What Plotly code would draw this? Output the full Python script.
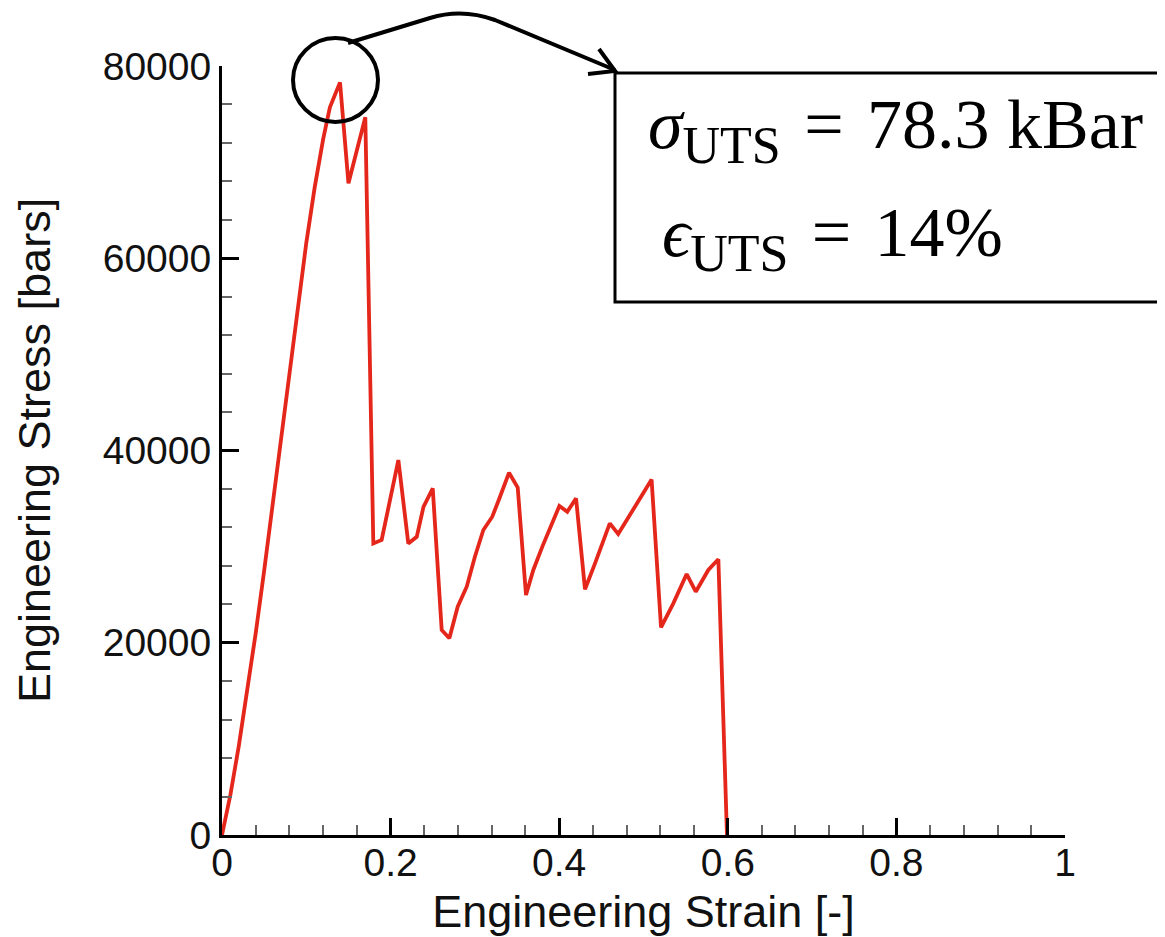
import plotly.graph_objects as go

# ---- data ----
strain = [0.0, 0.01, 0.02, 0.03, 0.04, 0.05, 0.06, 0.07, 0.08, 0.09,
          0.10, 0.11, 0.12, 0.128, 0.134, 0.140, 0.150, 0.170,
          0.1795, 0.1894, 0.2092, 0.221, 0.231, 0.239, 0.250,
          0.2606, 0.2697, 0.2796, 0.2903, 0.300, 0.310, 0.3206, 0.3298, 0.3405, 0.3508,
          0.3606, 0.3693, 0.380, 0.4002, 0.4096, 0.420, 0.4306, 0.4425, 0.460, 0.470,
          0.480, 0.5096, 0.5208, 0.5354, 0.5512, 0.562, 0.5769, 0.5888, 0.599]
stress = [0, 4200, 9300, 14900, 21000, 27500, 34300, 41200, 48100, 55000,
          61600, 67400, 72400, 75700, 76900, 78300, 67800, 74660,
          30330, 30690, 39010, 30330, 31020, 34140, 36050,
          21330, 20460, 23750, 25830, 28950, 31730, 33110, 35190, 37690, 36150,
          24970, 27570, 30000, 34230, 33630, 35020, 25560, 28260, 32420, 31310,
          32770, 36980, 21610, 24100, 27150, 25310, 27570, 28680, 0]

x_ticks = [0, 0.2, 0.4, 0.6, 0.8, 1]
y_ticks = [0, 20000, 40000, 60000, 80000]

# page is drawn with an 8 px body margin, so the figure is offset by 8 px
OFF = 8
W, H = 1165 - OFF, 937 - OFF
L, T = 222 - OFF, 66 - OFF
PW, PH = 843, 769
R, B = W - L - PW, H - T - PH


def px(x):
    return (x - OFF - L) / PW


def py(y):
    return (T + PH - (y - OFF)) / PH


fig = go.Figure()
fig.add_trace(go.Scatter(x=strain, y=stress, mode="lines",
                         line=dict(color="#e5261b", width=3.8), showlegend=False))

axis_common = dict(
    showline=True, linecolor="black", linewidth=3, showgrid=False, zeroline=False,
    ticks="inside", ticklen=17, tickwidth=3, tickcolor="black",
    tickfont=dict(family="Liberation Sans, Arial", size=39, color="#111"),
)
title_font = dict(family="Liberation Sans, Arial", size=45, color="#111")

fig.update_xaxes(range=[0, 1], tickvals=x_ticks, ticktext=[str(v) for v in x_ticks],
                 ticklabelstandoff=-9,
                 minor=dict(ticks="inside", ticklen=10, tickwidth=1.5, tickcolor="#666", dtick=0.04),
                 title=dict(text="Engineering Strain [-]", standoff=24, font=title_font),
                 **axis_common)
fig.update_yaxes(range=[0, 80000], tickvals=y_ticks, ticktext=[str(v) for v in y_ticks],
                 minor=dict(ticks="inside", ticklen=10, tickwidth=1.5, tickcolor="#666", dtick=4000),
                 title=dict(text="Engineering Stress [bars]", standoff=38, font=title_font),
                 **axis_common)

shapes = []
# circle around peak
shapes.append(dict(type="circle", xref="paper", yref="paper",
                   x0=px(293), x1=px(378), y0=py(122), y1=py(38),
                   line=dict(color="black", width=4)))
# curved arrow
path = (f"M {px(348)},{py(43)} L {px(430)},{py(18)} "
        f"Q {px(462)},{py(8)} {px(495)},{py(20)} L {px(615)},{py(70)}")
shapes.append(dict(type="path", xref="paper", yref="paper", path=path,
                   line=dict(color="black", width=4)))
shapes.append(dict(type="path", xref="paper", yref="paper",
                   path=f"M {px(599)},{py(49)} L {px(615)},{py(71)} L {px(588)},{py(74)}",
                   line=dict(color="black", width=4)))
# text box
shapes.append(dict(type="rect", xref="paper", yref="paper",
                   x0=px(615), x1=px(1185), y0=py(302), y1=py(73),
                   line=dict(color="black", width=3), fillcolor="white"))

serif = dict(family="Liberation Serif, DejaVu Serif, serif", size=70, color="black")
sub = "<sub><span style='font-size:52px'>UTS</span></sub>"
annotations = [
    dict(xref="paper", yref="paper", x=px(646), y=py(130), xanchor="left", yanchor="middle",
         showarrow=False, font=serif,
         text=f"<i>σ</i>{sub}\u200a = \u200a78.3 kBar"),
    dict(xref="paper", yref="paper", x=px(660), y=py(238), xanchor="left", yanchor="middle",
         showarrow=False, font=serif,
         text=f"<i>ϵ</i>{sub}\u200a = \u200a14%"),
]

fig.update_layout(width=W, height=H, margin=dict(l=L, r=R, t=T, b=B, autoexpand=False),
                  paper_bgcolor="white", plot_bgcolor="white",
                  shapes=shapes, annotations=annotations)

fig.write_html("out.html")
